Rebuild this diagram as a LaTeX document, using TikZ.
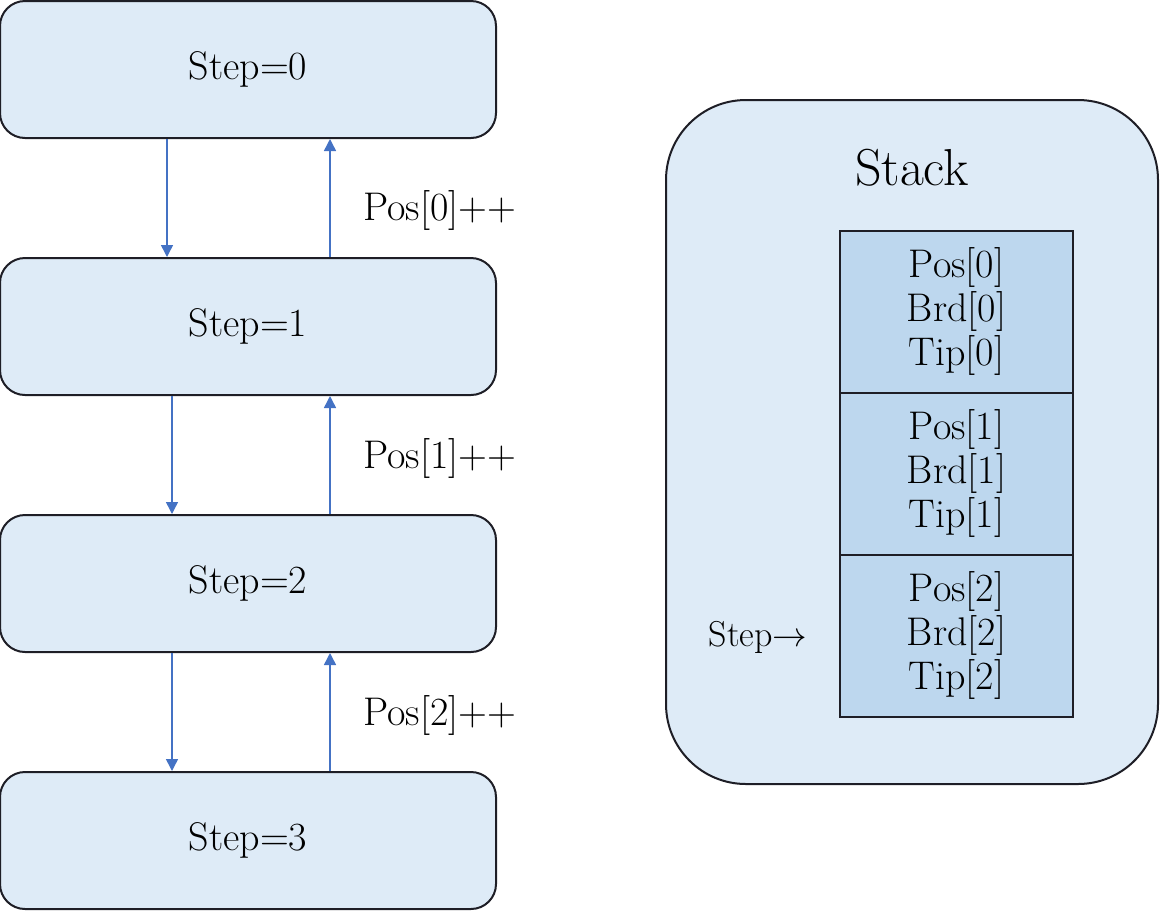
\documentclass[tikz,border=0pt]{standalone}
\usetikzlibrary{arrows.meta}
\definecolor{boxblue}{RGB}{222,235,247}
\definecolor{cellblue}{RGB}{189,215,238}
\definecolor{linkblue}{RGB}{68,114,196}
\definecolor{edgegray}{RGB}{30,30,38}
\tikzset{
  stepbox/.style={draw=edgegray, line width=1pt, fill=boxblue, rounded corners=12.5pt,
    minimum width=248pt, minimum height=68.5pt, font=\fontsize{20}{22}\selectfont},
  stackbox/.style={draw=edgegray, line width=1pt, fill=boxblue, rounded corners=40pt,
    minimum width=246pt, minimum height=342pt},
  cell/.style={draw=edgegray, line width=1pt, fill=cellblue, minimum width=116.5pt,
    minimum height=81pt, align=center, font=\fontsize{20}{22}\selectfont},
  link/.style={draw=linkblue, line width=0.75pt, -{Triangle[length=6pt,width=6pt]}},
  poslabel/.style={anchor=west, inner sep=0pt, font=\fontsize{20}{22}\selectfont}
}
\begin{document}
\begin{tikzpicture}[x=0.5pt, y=-0.5pt]
    \useasboundingbox (0,0) rectangle (1161,911);
    % steps
    \foreach \i in {0,1,2,3} {
        \node[stepbox] (s\i) at (248,69.5+257*\i) {Step=\i};
    }
    \foreach \i/\j/\dx/\ly in {0/1/-40.5/210, 1/2/-38/458, 2/3/-38/715} {
        \draw[link] ([xshift=\dx pt]s\i.south) -- ([xshift=\dx pt]s\j.north);
        \draw[link] ([xshift=41pt]s\j.north) -- ([xshift=41pt]s\i.south);
        \node[poslabel] (p\i) at (363,\ly) {Pos[\i]++};
    }
    % stack
    \node[stackbox] (stack) at (912,442) {};
    \node[font=\fontsize{26}{30}\selectfont] (title) at (912,168) {Stack};
    \foreach \i in {0,1,2} {
        \node[cell] (c\i) at (956.5,311.5+162*\i) {Pos[\i]\\Brd[\i]\\Tip[\i]};
    }
    \node[font=\fontsize{18}{22}\selectfont] (ptr) at (758,637) {Step$\rightarrow$};
\end{tikzpicture}
\end{document}
